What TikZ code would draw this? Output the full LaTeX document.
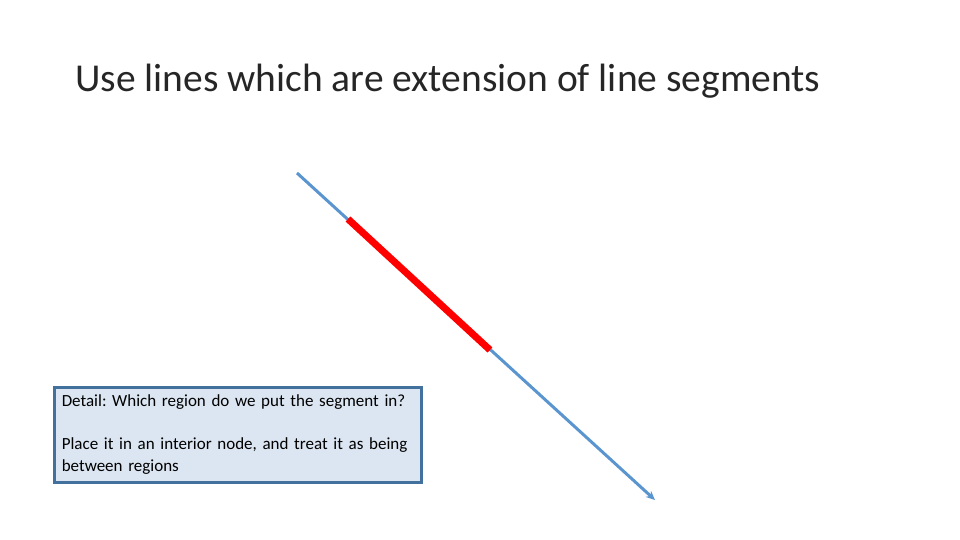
\documentclass[tikz,border=0pt]{standalone}
\usepackage{fontspec}
\setmainfont{Carlito}
\usetikzlibrary{arrows.meta}
\definecolor{lineblue}{HTML}{5B95CF}
\definecolor{boxfill}{HTML}{DCE6F2}
\definecolor{boxborder}{HTML}{41719C}
\tikzset{
  titletext/.style={anchor=base west, inner sep=0pt, text=black!85, font=\fontsize{39.5}{46}\selectfont},
  extline/.style={draw=lineblue, line width=3pt, -{Stealth[length=9pt,width=8pt]}},
  segline/.style={draw=red, line width=7pt},
  notebox/.style={draw=boxborder, fill=boxfill, line width=2.5pt, anchor=north west,
    text width=352pt, inner xsep=7.5pt, minimum height=95pt, align=left,
    font=\frenchspacing\fontsize{17}{22}\selectfont}
}
\begin{document}
\frenchspacing
\begin{tikzpicture}[x=1pt,y=-1pt]
\useasboundingbox (0,0) rectangle (960,540);
\node[titletext] (title) at (75,92) {Use lines which are extension of line segments};
\coordinate (s) at (297,173);
\coordinate (e) at (655,500);
\coordinate (r1) at (348,219);
\coordinate (r2) at (490,350);
\draw[extline] (s) -- (e);
\draw[segline] (r1) -- (r2);
\node[notebox] (note) at (53,386) {Detail: Which region do we put the segment in?\\[21pt]Place it in an interior node, and treat it as being\\between regions};
\end{tikzpicture}
\end{document}
